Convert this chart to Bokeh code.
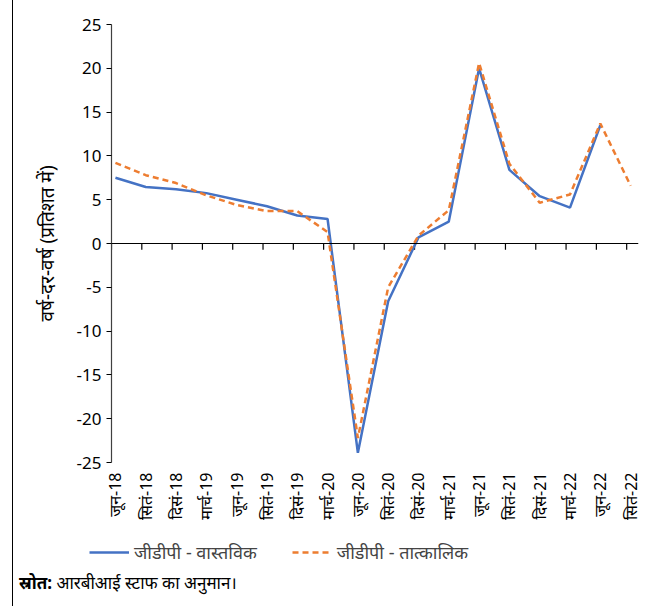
import math
from bokeh.plotting import figure
from bokeh.models import (Range1d, FixedTicker, Legend, LegendItem, Div, Span)
from bokeh.layouts import column, row
from bokeh.embed import file_html
from bokeh.resources import INLINE

quarters = ["जून-18", "सितं-18", "दिसं-18", "मार्च-19", "जून-19", "सितं-19", "दिसं-19", "मार्च-20",
            "जून-20", "सितं-20", "दिसं-20", "मार्च-21", "जून-21", "सितं-21", "दिसं-21", "मार्च-22",
            "जून-22", "सितं-22"]
gdp_actual = [7.5, 6.45, 6.2, 5.75, 5.0, 4.25, 3.2, 2.8, -23.9, -6.6, 0.7, 2.5, 20.0, 8.4, 5.4, 4.1, 13.5]
gdp_nowcast = [9.2, 7.8, 6.9, 5.5, 4.4, 3.7, 3.7, 1.3, -22.2, -5.0, 0.9, 3.8, 20.6, 9.1, 4.65, 5.6, 13.7, 6.6]
y_ticks = [-25, -20, -15, -10, -5, 0, 5, 10, 15, 20, 25]

FONT = "Noto Sans"
BLUE = "#4472C4"
ORANGE = "#ED7D31"
idx = list(range(len(quarters)))
shift = 0.13

p = figure(width=653, height=540, output_backend="svg", toolbar_location=None,
           x_range=Range1d(-shift, 17.26), y_range=Range1d(-25, 25),
           min_border_left=98, min_border_right=28, min_border_top=24, min_border_bottom=78)
p.outline_line_color = None
p.grid.visible = False

# label axis (bottom)
p.xaxis.ticker = FixedTicker(ticks=idx)
p.xaxis.major_label_overrides = {i: q for i, q in enumerate(quarters)}
p.xaxis.major_label_orientation = math.pi / 2
p.xaxis.axis_line_color = None
p.xaxis.major_tick_line_color = None
p.xaxis.minor_tick_line_color = None
p.xaxis.major_label_text_font = FONT
p.xaxis.major_label_text_font_size = "16px"
p.xaxis.major_label_text_color = "black"
p.xaxis.major_label_standoff = 4

# zero line with category-boundary ticks
p.add_layout(Span(location=0, dimension="width", line_color="black", line_width=1.2))
tick_x = [i - shift for i in idx]
p.segment(x0=tick_x, x1=tick_x, y0=[0] * len(idx), y1=[-0.7] * len(idx),
          line_color="black", line_width=1.2)

p.yaxis.ticker = FixedTicker(ticks=y_ticks)
p.yaxis.major_label_overrides = {t: str(t) for t in y_ticks}
p.yaxis.axis_line_color = "#404040"
p.yaxis.axis_line_width = 1.2
p.yaxis.major_tick_out = 5
p.yaxis.major_tick_in = 0
p.yaxis.minor_tick_line_color = None
p.yaxis.major_label_text_font = FONT
p.yaxis.major_label_text_font_size = "17px"
p.yaxis.major_label_text_color = "black"
p.yaxis.major_label_standoff = 5
p.yaxis.axis_label = "वर्ष-दर-वर्ष (प्रतिशत में)"
p.yaxis.axis_label_text_font = FONT
p.yaxis.axis_label_text_font_size = "19px"
p.yaxis.axis_label_text_font_style = "normal"
p.yaxis.axis_label_text_color = "black"
p.yaxis.axis_label_standoff = 14

p.line(idx[:len(gdp_actual)], gdp_actual, line_color=BLUE, line_width=2.5)
p.line(idx, gdp_nowcast, line_color=ORANGE, line_width=2.5, line_dash="6 4")

# legend strip (series drawn off-screen; only the legend is visible)
lg = figure(width=653, height=26, output_backend="svg", toolbar_location=None,
            x_range=Range1d(100, 101), y_range=Range1d(100, 101),
            min_border=0, min_border_left=0, min_border_right=0,
            x_axis_location=None, y_axis_location=None)
lg.grid.visible = False
lg.outline_line_color = None
l1 = lg.line(idx[:len(gdp_actual)], gdp_actual, line_color=BLUE, line_width=2.5)
l2 = lg.line(idx, gdp_nowcast, line_color=ORANGE, line_width=2.5, line_dash="6 4")
legend = Legend(items=[LegendItem(label="जीडीपी - वास्तविक", renderers=[l1]),
                       LegendItem(label="जीडीपी - तात्कालिक", renderers=[l2])],
                orientation="horizontal", location=(76, 2), glyph_width=40, spacing=35,
                label_text_font=FONT, label_text_font_size="18px", border_line_color=None,
                background_fill_alpha=0, padding=0, margin=0, label_standoff=5)
lg.add_layout(legend)

div = Div(text="<b>स्रोत:</b> आरबीआई स्टाफ का अनुमान।", width=640, height=40,
          styles={"font-family": FONT, "font-size": "17px", "color": "black", "padding-top": "5px"},
          margin=(0, 0, 0, 6))

layout = column(p, row(lg), div, spacing=0, styles={"border-left": "1.5px solid black"},
                margin=(0, 0, 0, 12))
open("out.html", "w").write(file_html(layout, INLINE))
